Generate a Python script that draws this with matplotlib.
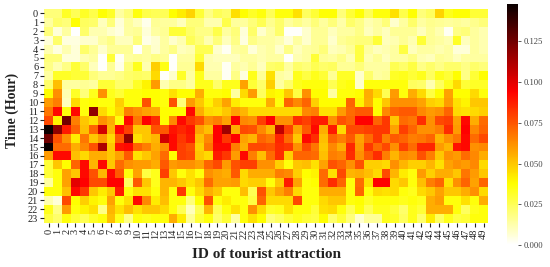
import numpy as np
import matplotlib
matplotlib.use("Agg")
import matplotlib.pyplot as plt

plt.rcParams['font.family'] = ['Liberation Serif', 'DejaVu Serif']

attractions = list(range(50))
hours = list(range(24))
x_title = "ID of tourist attraction"
y_title = "Time (Hour)"
cbar_ticks = [0.000, 0.025, 0.050, 0.075, 0.100, 0.125]
v_max = 0.148

# visit share per hour (row) and attraction (column), in thousandths
h00 = [20,20,32,25,32,27,37,32,14,20,36,27,25,25,38,42,47,30,18,25,22,45,38,32,36,25,36,36,44,24,30,37,37,20,30,37,25,36,36,44,27,37,20,24,47,34,37,37,30,30]
h01 = [14,22,20,37,24,22,10,20,6,15,10,3,16,15,15,10,20,20,12,12,27,15,15,20,26,17,22,15,18,14,20,15,20,13,22,18,12,15,20,8,14,22,14,17,16,15,16,14,17,20]
h02 = [20,6,14,0,22,12,12,8,5,14,16,6,14,16,30,30,22,18,18,27,14,20,6,22,8,14,22,1,1,8,16,16,10,14,14,18,10,14,10,16,16,16,10,16,12,2,18,20,15,12]
h03 = [6,22,5,5,8,8,14,18,10,10,20,4,7,14,8,12,25,20,12,20,10,18,5,18,14,14,12,6,14,8,16,16,8,16,18,20,20,30,10,12,16,12,30,16,14,12,32,10,15,12]
h04 = [12,5,12,6,22,16,8,16,16,16,1,14,8,14,18,10,12,26,26,8,2,14,16,6,12,14,8,18,10,14,16,20,10,12,16,28,14,10,12,14,28,10,14,14,12,14,6,6,15,12]
h05 = [20,20,6,6,12,14,1,30,2,14,16,14,18,16,1,14,14,30,12,10,10,10,14,14,12,14,14,1,12,14,30,16,14,18,12,28,12,16,10,14,14,18,12,10,16,14,10,14,14,14]
h06 = [18,12,18,30,22,10,1,16,4,20,34,12,48,35,1,16,16,46,12,12,2,14,12,16,10,22,24,14,22,20,26,22,24,16,16,20,14,14,14,26,22,28,18,22,18,22,22,18,22,20]
h07 = [14,32,32,30,30,20,16,16,18,22,24,22,46,1,8,32,14,34,14,14,2,18,5,34,16,44,14,12,34,28,34,30,16,32,32,8,22,14,16,32,34,30,34,24,34,30,38,18,30,38]
h08 = [22,52,14,14,16,14,30,30,22,22,32,40,60,12,18,18,14,34,34,22,34,34,58,30,22,48,14,22,34,36,36,36,26,34,36,8,36,36,36,36,36,24,22,12,24,34,46,30,32,32]
h09 = [38,62,12,32,20,34,62,34,30,36,36,38,38,36,44,38,38,56,36,36,38,14,46,60,24,40,38,50,28,62,38,38,14,36,36,38,56,46,26,60,36,56,46,28,38,58,38,38,46,36]
h10 = [60,66,10,46,36,38,36,36,48,36,36,76,38,36,76,20,60,50,40,48,58,42,36,36,36,56,36,72,64,72,48,38,38,38,72,40,55,38,50,62,62,62,58,48,46,60,44,40,50,50]
h11 = [68,92,36,92,36,118,46,38,46,66,62,58,56,38,38,38,92,56,46,44,50,58,54,46,46,46,46,46,46,64,66,44,44,60,70,74,74,38,64,72,74,74,64,60,62,72,46,44,46,48]
h12 = [78,40,125,66,50,44,62,56,36,92,68,94,84,38,64,92,82,76,62,66,58,94,64,62,80,94,62,62,84,80,88,88,62,76,72,94,94,72,82,50,70,68,84,62,78,80,58,92,56,70]
h13 = [148,118,88,72,52,72,104,54,92,80,50,50,76,74,90,86,90,58,52,94,115,56,78,76,64,54,108,80,58,74,92,56,88,46,78,78,80,82,82,58,80,72,62,62,66,84,60,94,64,72]
h14 = [125,76,62,42,68,50,60,46,74,118,44,50,54,104,92,82,88,52,64,94,82,94,58,54,72,68,86,70,50,92,84,52,72,66,74,58,70,82,66,74,72,66,68,72,54,62,68,92,70,78]
h15 = [148,70,70,56,64,76,112,50,90,92,72,66,56,62,92,80,76,48,68,92,92,66,56,78,78,76,84,82,62,78,68,50,64,56,86,60,82,70,78,62,80,70,86,86,60,54,90,92,62,64]
h16 = [60,92,92,52,46,56,56,50,58,74,44,50,58,70,38,80,78,50,46,88,82,60,92,66,52,70,84,48,72,72,70,52,66,64,84,62,74,84,66,54,64,62,76,66,50,62,60,70,64,56]
h17 = [30,50,38,72,92,54,92,50,70,62,60,60,56,74,60,62,62,58,72,78,60,76,80,80,62,62,48,36,50,52,44,58,76,72,62,76,48,48,46,62,54,48,48,54,44,58,62,60,64,46]
h18 = [30,36,58,50,92,76,54,92,74,36,58,28,34,80,50,36,44,36,62,58,56,74,46,56,56,56,66,64,48,38,40,70,44,78,54,56,52,46,78,54,42,36,60,48,56,56,50,68,60,50]
h19 = [14,36,58,100,94,78,78,94,94,24,74,50,34,54,54,50,44,50,70,58,58,60,46,48,48,36,50,88,58,36,38,70,84,72,36,70,44,94,94,46,50,36,52,66,72,44,62,72,58,72]
h20 = [36,36,52,92,82,50,42,50,88,36,44,44,36,54,36,82,36,46,56,50,36,36,52,26,76,50,58,66,46,36,36,56,56,56,36,72,36,46,44,46,36,34,46,50,58,50,50,56,62,46]
h21 = [12,6,78,38,48,40,36,58,36,44,92,64,42,52,36,36,20,38,76,36,42,36,36,28,72,46,46,46,78,36,36,46,50,50,36,38,32,36,36,36,34,36,34,56,60,36,36,44,36,56]
h22 = [34,18,60,36,40,44,18,54,44,52,44,50,50,46,36,26,10,26,54,26,36,44,36,62,46,32,34,44,36,36,30,44,46,36,26,36,26,34,34,30,22,34,30,56,56,56,36,24,34,36]
h23 = [28,22,36,30,26,32,36,52,34,18,36,34,36,36,56,42,16,30,36,22,30,14,36,44,38,20,24,30,34,30,28,38,22,30,20,8,16,16,34,32,24,34,22,42,24,34,28,30,36,36]

rows = [h00,h01,h02,h03,h04,h05,h06,h07,h08,h09,h10,h11,h12,h13,h14,h15,h16,h17,h18,h19,h20,h21,h22,h23]
data = np.array(rows, dtype=float) / 1000.0

W, H = 550, 267
fig = plt.figure(figsize=(W/100, H/100), dpi=100)
ax = fig.add_axes([44.4/W, 1-222.7/H, (488-44.4)/W, (222.7-9)/H])
mesh = ax.pcolormesh(np.arange(51), np.arange(25), data, cmap='hot_r', vmin=0, vmax=v_max)
ax.set_xlim(0, 50)
ax.set_ylim(24, 0)
for s in ax.spines.values():
    s.set_visible(False)
ax.set_xticks(np.array(attractions) + 0.5)
ax.set_xticklabels([str(a) for a in attractions], rotation=90, fontsize=7.4)
ax.set_yticks(np.array(hours) + 0.5)
ax.set_yticklabels([str(h) for h in hours], rotation=0, fontsize=7.4)
ax.tick_params(axis='both', length=3, width=0.8, pad=1.5, color='#222222', labelcolor='#222222')

fig.text(266.5/W, 1-254/H, x_title, ha='center', va='center', fontsize=11,
         fontweight='bold', color='#222222')
fig.text(12/W, 1-110/H, y_title, ha='center', va='center', rotation=90, fontsize=10,
         fontweight='bold', color='#222222')

cax = fig.add_axes([506.7/W, 1-245/H, (518-506.7)/W, (245-4)/H])
cb = fig.colorbar(mesh, cax=cax)
cb.outline.set_visible(False)
cb.set_ticks(cbar_ticks)
cb.set_ticklabels([f"{t:.3f}" for t in cbar_ticks])
cb.ax.tick_params(labelsize=6.2, length=2.5, width=0.6, pad=1.5, color='#444444', labelcolor='#444444')

fig.savefig('out.png', dpi=100)
